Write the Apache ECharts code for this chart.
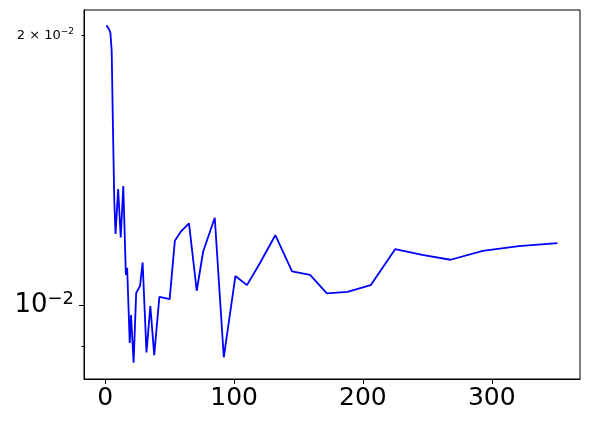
<!DOCTYPE html>
<html><head><meta charset="utf-8">
<script src="https://cdn.jsdelivr.net/npm/echarts@6/dist/echarts.min.js"></script>
<style>html,body{margin:0;padding:0;background:#fff}#c{width:589px;height:427px}</style>
</head><body><div id="c"></div>
<script>
const xValues = [1,2,3,4,5,6,7,8,10,12,14,16,17,19,20,22,24,27,29,32,35,38,42,50,54,59,65,71,76,85,92,101,110,120,132,145,159,172,188,206,225,246,268,293,321,351];
const yValues = [0.02052,0.02042,0.02030,0.02012,0.01921,0.01569,0.01310,0.01201,0.01348,0.01190,0.01358,0.01081,0.01101,0.00908,0.00975,0.00863,0.01032,0.01051,0.01116,0.00886,0.00998,0.00880,0.01022,0.01016,0.01180,0.01210,0.01234,0.01038,0.01148,0.01252,0.00875,0.01078,0.01053,0.01114,0.01197,0.01091,0.01081,0.01031,0.01035,0.01053,0.01155,0.01138,0.01124,0.01150,0.01164,0.01173];
const xTicks = [0,100,200,300];
const yMajorTicks = [0.01];
const yMinorTicks = [0.009,0.02];
const yMinorLabels = [0.02];

const FONT = 'DejaVu Sans';
const chart = echarts.init(document.getElementById('c'), null, {renderer:'canvas'});
const data = xValues.map((x,i)=>[x,yValues[i]]);
chart.setOption({
  animation:false,
  backgroundColor:'#fff',
  grid:{left:84,top:10,right:9,bottom:48,show:true,borderColor:'#000',borderWidth:1,containLabel:false},
  xAxis:{
    type:'value',min:-16.5,max:368.5,
    splitLine:{show:false},
    axisLine:{show:true,onZero:false,lineStyle:{color:'#000',width:1}},
    axisTick:{show:true,length:5,lineStyle:{color:'#000'},customValues:xTicks},
    axisLabel:{show:true,customValues:xTicks,fontSize:25,fontFamily:FONT,color:'#000',margin:7}
  },
  yAxis:[{
    type:'log',min:0.008276,max:0.02134,
    splitLine:{show:false},
    axisLine:{show:true,onZero:false,lineStyle:{color:'#000',width:1}},
    axisTick:{show:true,length:5,lineStyle:{color:'#000'},customValues:yMajorTicks},
    axisLabel:{show:true,customValues:yMajorTicks,margin:10,
      formatter:function(v){return '{b|10}{s|\u22122}';},
      rich:{b:{fontSize:26,fontFamily:FONT,color:'#000',lineHeight:30},
            s:{fontSize:18,fontFamily:FONT,color:'#000',verticalAlign:'top',lineHeight:18}}}
  },{
    type:'log',min:0.008276,max:0.02134,position:'left',
    splitLine:{show:false},
    axisLine:{show:false,onZero:false},
    axisTick:{show:true,length:2.5,lineStyle:{color:'#000'},customValues:yMinorTicks},
    axisLabel:{show:true,customValues:yMinorLabels,margin:10,
      formatter:function(v){return '{b|2 \u00d7 10}{s|\u22122}';},
      rich:{b:{fontSize:13,fontFamily:FONT,color:'#000',lineHeight:16},
            s:{fontSize:9,fontFamily:FONT,color:'#000',verticalAlign:'top',lineHeight:9}}}
  }],
  series:[{
    type:'line',data:data,yAxisIndex:0,showSymbol:false,symbol:'none',smooth:false,
    lineStyle:{color:'#0000ff',width:1.8},itemStyle:{color:'#0000ff'}
  }]
});
</script></body></html>
